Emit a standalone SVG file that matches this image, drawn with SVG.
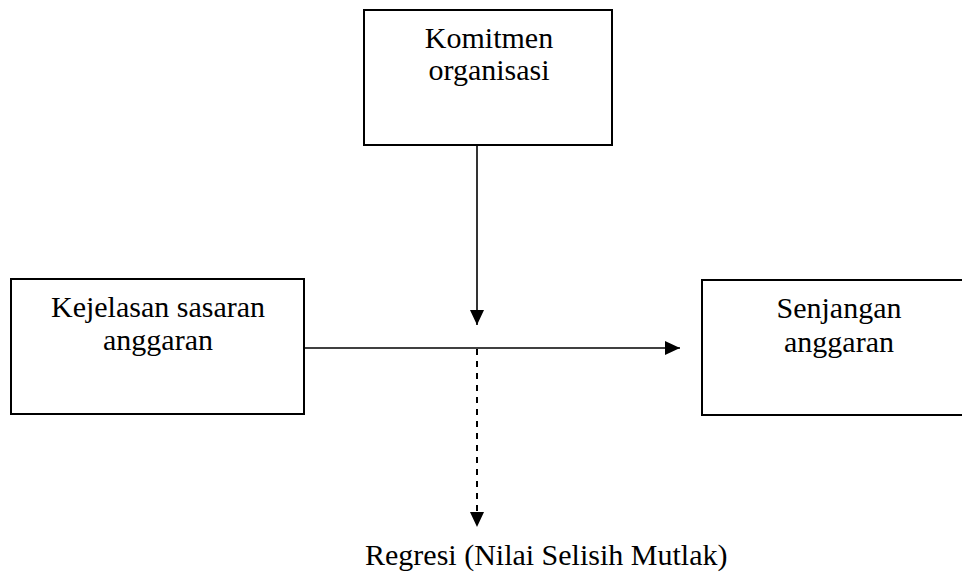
<svg xmlns="http://www.w3.org/2000/svg" width="962" height="574" viewBox="0 0 962 574">
<style>
.box{fill:#fff;stroke:#000;stroke-width:2}
.t{font-family:"Liberation Serif","Times New Roman",serif;font-size:30px;fill:#000}
.c{text-anchor:middle}
.ln{stroke:#000;stroke-width:1.6;fill:none}
.dash{stroke:#000;stroke-width:2;fill:none;stroke-dasharray:6 6}
</style>
<defs>
<marker id="ah" markerUnits="userSpaceOnUse" markerWidth="16" markerHeight="16" viewBox="0 0 16 16" refX="15" refY="8" orient="auto">
<path d="M0,1 L15,8 L0,15 Z" fill="#000"/>
</marker>
</defs>
<rect width="962" height="574" fill="#fff"/>
<g id="komitmen">
<rect class="box" x="364" y="10" width="248" height="135"/>
<text class="t c" x="489" y="48">Komitmen</text>
<text class="t c" x="489" y="80">organisasi</text>
</g>
<g id="kejelasan">
<rect class="box" x="11" y="279" width="293" height="135"/>
<text class="t c" x="158" y="317">Kejelasan sasaran</text>
<text class="t c" x="158" y="350">anggaran</text>
</g>
<g id="senjangan">
<rect class="box" x="702" y="280" width="280" height="135"/>
<text class="t c" x="839" y="318">Senjangan</text>
<text class="t c" x="839" y="352">anggaran</text>
</g>
<g id="regresi">
<text class="t" x="365" y="565">Regresi (Nilai Selisih Mutlak)</text>
</g>
<g id="connectors">
<line class="ln" x1="477" y1="145" x2="477" y2="325" marker-end="url(#ah)"/>
<line class="ln" x1="304" y1="348" x2="680" y2="348" marker-end="url(#ah)"/>
<line class="dash" x1="477" y1="349" x2="477" y2="527" marker-end="url(#ah)"/>
</g>
</svg>
